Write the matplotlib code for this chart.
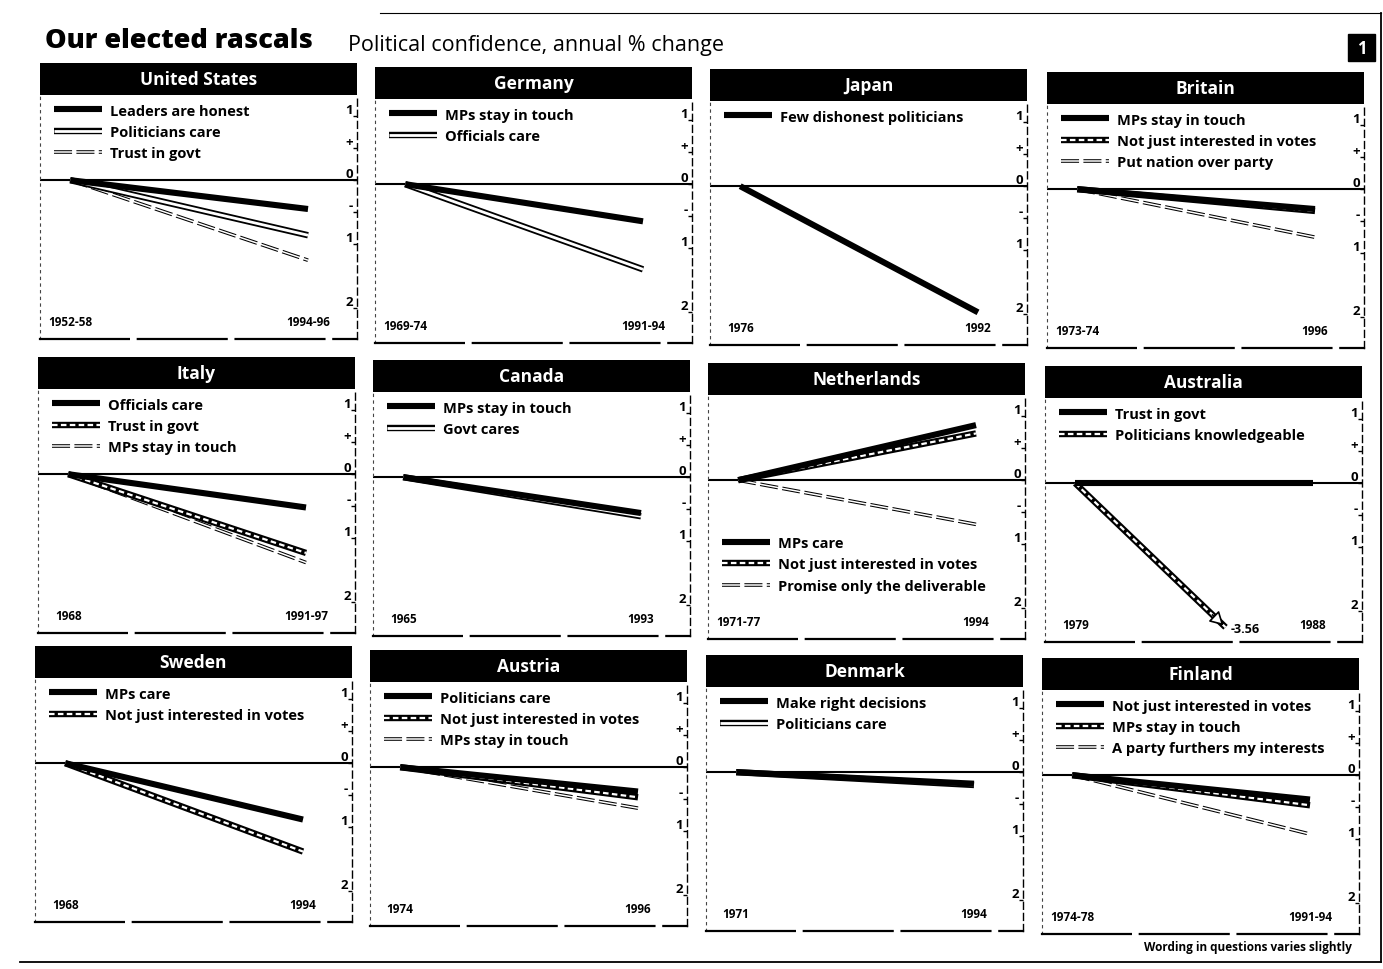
import matplotlib
matplotlib.use("Agg")
import matplotlib.pyplot as plt
from matplotlib.lines import Line2D
from matplotlib.patches import Rectangle

plt.rcParams['font.family'] = ['Open Sans', 'DejaVu Sans']

# panels, left to right, top to bottom
countries = ['United States', 'Germany', 'Japan', 'Britain',
             'Italy', 'Canada', 'Netherlands', 'Australia',
             'Sweden', 'Austria', 'Denmark', 'Finland']
start_years = ['1952-58', '1969-74', '1976', '1973-74',
               '1968', '1965', '1971-77', '1979',
               '1968', '1974', '1971', '1974-78']
end_years = ['1994-96', '1991-94', '1992', '1996',
             '1991-97', '1993', '1994', '1988',
             '1994', '1996', '1994', '1991-94']
series_names = [
    ['Leaders are honest', 'Politicians care', 'Trust in govt'],
    ['MPs stay in touch', 'Officials care'],
    ['Few dishonest politicians'],
    ['MPs stay in touch', 'Not just interested in votes', 'Put nation over party'],
    ['Officials care', 'Trust in govt', 'MPs stay in touch'],
    ['MPs stay in touch', 'Govt cares'],
    ['MPs care', 'Not just interested in votes', 'Promise only the deliverable'],
    ['Trust in govt', 'Politicians knowledgeable'],
    ['MPs care', 'Not just interested in votes'],
    ['Politicians care', 'Not just interested in votes', 'MPs stay in touch'],
    ['Make right decisions', 'Politicians care'],
    ['Not just interested in votes', 'MPs stay in touch', 'A party furthers my interests'],
]
series_styles = [
    ['solid', 'hollow', 'double'],
    ['solid', 'hollow'],
    ['solid'],
    ['solid', 'hatched', 'double'],
    ['solid', 'hatched', 'double'],
    ['solid', 'hollow'],
    ['solid', 'hatched', 'double'],
    ['solid', 'hatched'],
    ['solid', 'hatched'],
    ['solid', 'hatched', 'double'],
    ['solid', 'hollow'],
    ['solid', 'hatched', 'double'],
]
# annual % change over the period
series_values = [
    [-0.45, -0.86, -1.25],
    [-0.58, -1.33],
    [-1.97],
    [-0.31, -0.34, -0.75],
    [-0.52, -1.23, -1.38],
    [-0.56, -0.61],
    [0.86, 0.73, -0.69],
    [0.0, -3.56],
    [-0.88, -1.38],
    [-0.38, -0.47, -0.64],
    [-0.18, -0.20],
    [-0.38, -0.47, -0.92],
]
legend_low = ['Netherlands']

ytick_vals = [1, 0.5, 0, -0.5, -1, -2]
ytick_text = ['1', '+', '0', '-', '1', '2']

STYLES = {
    'solid': [dict(color='black', lw=4.4)],
    'hollow': [dict(color='black', lw=4.6), dict(color='white', lw=2.0)],
    'hatched': [dict(color='black', lw=4.6), dict(color='white', lw=1.6, ls=(0, (2.5, 1.5)))],
    'double': [dict(color='black', lw=2.6, ls=(0, (5, 1.2))), dict(color='white', lw=1.1)],
}

W, H = 1383, 970
fig = plt.figure(figsize=(W / 100, H / 100), dpi=100)


def box(x, y, w, h):
    return [x / W, 1 - (y + h) / H, w / W, h / H]


col_left = [[40, 375, 710, 1047], [38, 373, 708, 1045], [35, 370, 706, 1042]]
row_top = [[64, 68, 70, 73], [358, 361, 364, 367], [647, 651, 656, 659]]
PW, HH, PH = 317, 32, 244
YMIN, YMAX = -2.48, 1.33
FLOOR = -2.25

for i, name in enumerate(countries):
    r, c = divmod(i, 4)
    x0, y0 = col_left[r][c], row_top[r][c]

    hax = fig.add_axes(box(x0, y0, PW, HH))
    hax.set_facecolor('black')
    hax.set_xticks([])
    hax.set_yticks([])
    for s in hax.spines.values():
        s.set_visible(False)
    hax.text(0.5, 0.5, name, color='white', ha='center', va='center',
             fontsize=12.5, fontweight='bold', transform=hax.transAxes)

    ax = fig.add_axes(box(x0, y0 + HH, PW, PH))
    ax.set_xlim(-0.127, 1.206)
    ax.set_ylim(YMIN, YMAX)
    ax.axhline(0, color='black', lw=1.5, zorder=1)

    handles = []
    for nm, st, v in zip(series_names[i], series_styles[i], series_values[i]):
        if v < FLOOR:
            xe, ye = FLOOR / v, FLOOR
        else:
            xe, ye = 1, v
        layers = []
        for k, kw in enumerate(STYLES[st]):
            ln, = ax.plot([0, xe], [0, ye], solid_capstyle='butt',
                          dash_capstyle='butt', zorder=5 - len(handles) * 0.1 + k * 0.01, **kw)
            layers.append(ln)
        handles.append(tuple(layers))
        if v < FLOOR:
            ax.annotate('', xy=(xe, ye), xytext=(xe * 0.9, ye * 0.9),
                        arrowprops=dict(arrowstyle='-|>,head_length=0.8,head_width=0.45',
                                        fc='white', ec='black', lw=1.2), zorder=6)
            ax.text(xe + 0.02, ye - 0.02, f'{v:.2f}', fontsize=9, fontweight='bold',
                    ha='left', va='center')

    loc = 'lower left' if name in legend_low else 'upper left'
    anchor = (0.045, 0.19) if name in legend_low else (0.045, 0.965)
    ax.legend(handles, series_names[i], loc=loc, bbox_to_anchor=anchor,
              frameon=False, handlelength=3.3, handletextpad=0.5,
              labelspacing=0.5, borderpad=0, borderaxespad=0,
              prop=dict(weight='bold', size=10.5))

    ax.text(0, -2.2, start_years[i], ha='center', va='center', fontsize=8.5, fontweight='bold')
    ax.text(1, -2.2, end_years[i], ha='center', va='center', fontsize=8.5, fontweight='bold')

    ax.set_xticks([])
    ax.yaxis.tick_right()
    ax.set_yticks(ytick_vals)
    ax.set_yticklabels(ytick_text, fontsize=9.5, fontweight='bold')
    ax.tick_params(axis='y', direction='in', length=3, width=1, pad=-3)
    for lab in ax.get_yticklabels():
        lab.set_ha('right')
        lab.set_va('bottom')

    ax.spines['top'].set_visible(False)
    ax.spines['right'].set_linestyle((0, (5, 3)))
    ax.spines['right'].set_linewidth(1.0)
    ax.spines['left'].set_linestyle((0, (2, 4)))
    ax.spines['left'].set_linewidth(0.8)
    ax.spines['left'].set_color('#444444')
    ax.spines['bottom'].set_linestyle((0, (40, 4)))
    ax.spines['bottom'].set_linewidth(1.6)

fig.text(45 / W, 1 - 41 / H, 'Our elected rascals', fontsize=19.5, fontweight='heavy',
         va='center', ha='left')
fig.text(348 / W, 1 - 46 / H, 'Political confidence, annual % change', fontsize=15.5,
         va='center', ha='left')
fig.add_artist(Rectangle((1348 / W, 1 - 62 / H), 27 / W, 27 / H, color='black',
                         transform=fig.transFigure))
fig.text(1361.5 / W, 1 - 48.5 / H, '1', color='white', fontsize=12, fontweight='bold',
         ha='center', va='center')
fig.text(1352 / W, 1 - 948 / H, 'Wording in questions varies slightly', fontsize=8.5,
         fontweight='bold', ha='right', va='center')

# outer frame
fig.add_artist(Line2D([20 / W, 1381 / W], [1 - 963 / H, 1 - 963 / H], color='black', lw=1.3))
fig.add_artist(Line2D([1381 / W, 1381 / W], [1 - 14 / H, 1 - 963 / H], color='black', lw=1.3))
fig.add_artist(Line2D([380 / W, 1381 / W], [1 - 14 / H, 1 - 14 / H], color='black', lw=0.8))

fig.savefig('out.png', dpi=100, facecolor='white')
